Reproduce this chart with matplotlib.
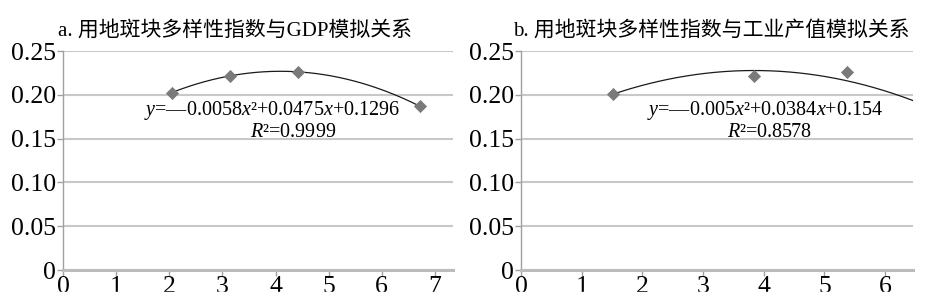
import matplotlib
matplotlib.use("Agg")
import matplotlib.pyplot as plt
import numpy as np
from matplotlib.patches import Rectangle

plt.rcParams['font.family'] = ['Liberation Serif', 'Noto Sans CJK SC']
plt.rcParams['mathtext.fontset'] = 'custom'
plt.rcParams['mathtext.it'] = 'Liberation Serif:italic'
plt.rcParams['mathtext.rm'] = 'Liberation Serif'

# panel a: GDP
gdp_x = [2.05, 3.14, 4.42, 6.71]
gdp_y = [0.2015, 0.2215, 0.2255, 0.1873]
gdp_coef = [-0.0058, 0.0475, 0.1296]
gdp_title = "a. 用地斑块多样性指数与GDP模拟关系"
gdp_eq = "$y$=—0.0058$x$²+0.0475$x$+0.1296"
gdp_r2 = "$R$²=0.9999"

# panel b: industrial output
ind_x = [1.51, 3.84, 5.37]
ind_y = [0.2010, 0.2215, 0.2255]
ind_coef = [-0.005, 0.0384, 0.154]
ind_title = "b. 用地斑块多样性指数与工业产值模拟关系"
ind_eq = "$y$=—0.005$x$²+0.0384$x$+0.154"
ind_r2 = "$R$²=0.8578"

y_ticks = [0, 0.05, 0.10, 0.15, 0.20, 0.25]
y_labels = ["0", "0.05", "0.10", "0.15", "0.20", "0.25"]

fig = plt.figure(figsize=(9.4, 3.06), dpi=100)


def draw_panel(rect, xs, ys, coef, xmax, fit_end, xticks, eq, r2, eq_pos, r2_pos):
    ax = fig.add_axes(rect)
    ax.set_xlim(0, xmax)
    ax.set_ylim(0, 0.25)
    ax.set_yticks(y_ticks)
    ax.set_yticklabels(y_labels)
    ax.set_xticks(xticks)
    ax.grid(axis='y', color='#c8c8c8', linewidth=1.5)
    ax.set_axisbelow(True)
    for side in ['top', 'right']:
        ax.spines[side].set_visible(False)
    ax.spines['left'].set_color('#a0a0a0')
    ax.spines['left'].set_linewidth(1.0)
    ax.spines['bottom'].set_color('#bcbcbc')
    ax.spines['bottom'].set_linewidth(2.2)
    ax.tick_params(axis='both', colors='#a0a0a0', labelcolor='black',
                   labelsize=18.5, length=4, width=1.0, pad=1)
    ax.tick_params(axis='x', pad=0)

    fx = np.linspace(xs[0], fit_end, 200)
    ax.plot(fx, np.polyval(coef, fx), color='#1a1a1a', linewidth=0.9, zorder=3)
    ax.scatter(xs, ys, marker='D', s=45, color='#7a7a7a', zorder=4, linewidths=0)

    ax.text(eq_pos[0], eq_pos[1], eq, ha='center', va='center', fontsize=14.5)
    ax.text(r2_pos[0], r2_pos[1], r2, ha='center', va='center', fontsize=14.5)
    return ax


draw_panel([0.0670, 0.1176, 0.4149, 0.7157], gdp_x, gdp_y, gdp_coef, 7.34, gdp_x[-1],
           range(0, 8), gdp_eq, gdp_r2, (3.94, 0.182), (4.33, 0.1565))
draw_panel([0.5543, 0.1176, 0.4170, 0.7157], ind_x, ind_y, ind_coef, 6.46, 6.6,
           range(0, 7), ind_eq, ind_r2, (4.02, 0.182), (4.10, 0.1565))

fig.text(235 / 940, 0.899, gdp_title, ha='center', va='center', fontsize=15)
fig.text(711 / 940, 0.899, ind_title, ha='center', va='center', fontsize=15)

# the source image is cropped through the x tick labels
fig.patches.append(Rectangle((0, 0), 1, 14 / 306, transform=fig.transFigure,
                             color='white', zorder=10))

fig.savefig("out.png", dpi=100)
